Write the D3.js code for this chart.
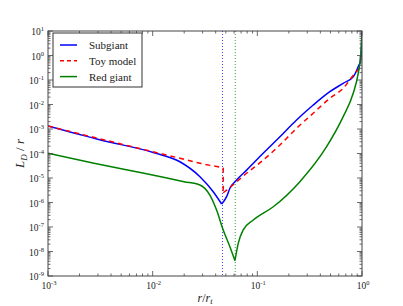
<!DOCTYPE html>
<html>
<head>
<meta charset="utf-8">
<script src="https://cdn.jsdelivr.net/npm/d3@7"></script>
<style>
  body { margin: 0; background: #fff; }
  svg text { font-family: "Liberation Serif", "DejaVu Serif", serif; fill: #222; }
</style>
</head>
<body>
<div id="chart"></div>
<script>
// Subgiant (blue solid)
const subX = [0.001, 0.00318, 0.0103, 0.0182, 0.0283, 0.0379, 0.0456, 0.0509, 0.0547, 0.0634, 0.079, 0.1137, 0.1644, 0.237, 0.342, 0.493, 0.661, 0.824, 0.92, 0.97, 0.993, 1.0];
const subY = [1.32e-3, 3.56e-4, 1.08e-4, 4.6e-5, 1.13e-5, 2.76e-6, 8.7e-7, 1.73e-6, 3.8e-6, 8.3e-6, 2.1e-5, 1.02e-4, 4.85e-4, 2.33e-3, 9.5e-3, 0.0333, 0.0733, 0.136, 0.35, 0.65, 4.3, 12];

// Toy model (red dashed)
const toyX = [0.001, 0.0103, 0.0182, 0.0283, 0.0472, 0.0472, 0.0509, 0.079, 0.1137, 0.1644, 0.237, 0.342, 0.493, 0.661, 0.855, 0.977, 1.0];
const toyY = [1.32e-3, 1.15e-4, 6.4e-5, 4.0e-5, 2.63e-5, 2.5e-6, 3.2e-6, 1.56e-5, 5.4e-5, 2.22e-4, 1.07e-3, 4.4e-3, 0.0179, 0.0458, 0.1875, 0.35, 0.4];

// Red giant (green solid)
const redX = [0.001, 0.00275, 0.00826, 0.0199, 0.0283, 0.0352, 0.0408, 0.0472, 0.0547, 0.0611, 0.0657, 0.0733, 0.0914, 0.142, 0.255, 0.459, 0.661, 0.824, 0.92, 0.977, 1.0];
const redY = [1.02e-4, 4.0e-5, 1.56e-5, 7.1e-6, 5.2e-6, 2.0e-6, 4.9e-7, 7.6e-8, 1.57e-8, 4.2e-9, 2.16e-8, 7.6e-8, 1.93e-7, 6.7e-7, 7.1e-6, 1.9e-4, 3.2e-3, 0.0286, 0.187, 1.23, 8];

// vertical markers
const vlineX = [0.0465, 0.0615];
const vlineColor = ['#4444ff', '#33a033'];

const xTickExp = [-3, -2, -1, 0];
const yTickExp = [1, 0, -1, -2, -3, -4, -5, -6, -7, -8, -9];

const series = [
  {name: 'Subgiant', xs: subX, ys: subY, color: '#0000ff', dash: null},
  {name: 'Toy model', xs: toyX, ys: toyY, color: '#ff0000', dash: '5,4'},
  {name: 'Red giant', xs: redX, ys: redY, color: '#008000', dash: null}
];

const W = 403, H = 306;
const margin = {top: 31, right: 41, bottom: 30, left: 48};
const width = W - margin.left - margin.right;
const height = H - margin.top - margin.bottom;

const svg = d3.select('#chart').append('svg')
  .attr('width', W).attr('height', H);

const g = svg.append('g')
  .attr('transform', `translate(${margin.left},${margin.top})`);

const x = d3.scaleLog().domain([1e-3, 1]).range([0, width]);
const y = d3.scaleLog().domain([1e-9, 10]).range([height, 0]);

g.append('clipPath').attr('id', 'clip')
  .append('rect').attr('width', width).attr('height', height);

const plot = g.append('g').attr('clip-path', 'url(#clip)');

// dotted verticals
plot.selectAll('.vline').data(vlineX).join('line')
  .attr('x1', d => x(d)).attr('x2', d => x(d))
  .attr('y1', 0).attr('y2', height)
  .attr('stroke', (d, i) => vlineColor[i])
  .attr('stroke-width', 1)
  .attr('stroke-dasharray', '1,2');

// split a series into smooth pieces: at repeated x (vertical jump) and at sharp minima
function pieces(xs, ys) {
  const pts = xs.map((v, i) => [v, ys[i]]);
  const out = [];
  let cur = [pts[0]];
  for (let i = 1; i < pts.length; i++) {
    if (pts[i][0] === pts[i - 1][0]) {
      out.push(cur);
      out.push([pts[i - 1], pts[i]]);
      cur = [pts[i]];
      continue;
    }
    cur.push(pts[i]);
    if (i < pts.length - 1 && ys[i] < ys[i - 1] && ys[i] < ys[i + 1]) {
      out.push(cur);
      cur = [pts[i]];
    }
  }
  out.push(cur);
  return out;
}

const smooth = d3.line().x(d => x(d[0])).y(d => y(d[1])).curve(d3.curveMonotoneX);
const straight = d3.line().x(d => x(d[0])).y(d => y(d[1]));

series.forEach(s => {
  const d = pieces(s.xs, s.ys)
    .map(p => (p.length > 2 && p[0][0] !== p[1][0]) ? smooth(p) : straight(p))
    .join('');
  plot.append('path')
    .attr('fill', 'none')
    .attr('stroke', s.color)
    .attr('stroke-width', 1.5)
    .attr('stroke-linejoin', 'round')
    .attr('stroke-dasharray', s.dash)
    .attr('d', d);
});

// ticks (inside, all four sides)
const minors = (lo, hi) => {
  const out = [];
  for (let e = lo; e < hi; e++) for (let m = 2; m <= 9; m++) out.push(m * Math.pow(10, e));
  return out;
};
const xMaj = xTickExp.map(e => Math.pow(10, e));
const yMaj = yTickExp.map(e => Math.pow(10, e));
const xMin = minors(-3, 0);
const yMin = minors(-9, 1);

const ticks = g.append('g').attr('stroke', '#444').attr('stroke-width', 0.8);
[[xMaj, 5], [xMin, 2.5]].forEach(([vals, len]) => {
  vals.forEach(v => {
    ticks.append('line').attr('x1', x(v)).attr('x2', x(v)).attr('y1', height).attr('y2', height - len);
    ticks.append('line').attr('x1', x(v)).attr('x2', x(v)).attr('y1', 0).attr('y2', len);
  });
});
[[yMaj, 5], [yMin, 2.5]].forEach(([vals, len]) => {
  vals.forEach(v => {
    ticks.append('line').attr('y1', y(v)).attr('y2', y(v)).attr('x1', 0).attr('x2', len);
    ticks.append('line').attr('y1', y(v)).attr('y2', y(v)).attr('x1', width).attr('x2', width - len);
  });
});

g.append('rect').attr('width', width).attr('height', height)
  .attr('fill', 'none').attr('stroke', '#444').attr('stroke-width', 1);

// tick labels
const powLabel = (sel, e) => {
  sel.append('tspan').text('10');
  sel.append('tspan').attr('dy', -4).attr('font-size', 6.5).text(e < 0 ? '-' + (-e) : e);
};
xTickExp.forEach(e => {
  const t = g.append('text').attr('x', x(Math.pow(10, e)) + 1).attr('y', height + 13)
    .attr('text-anchor', 'middle').attr('font-size', 9.5);
  powLabel(t, e);
});
yTickExp.forEach(e => {
  const t = g.append('text').attr('x', -4).attr('y', y(Math.pow(10, e)) + 4)
    .attr('text-anchor', 'end').attr('font-size', 9.5);
  powLabel(t, e);
});

// axis titles
const xt = g.append('text').attr('x', width / 2).attr('y', height + 26)
  .attr('text-anchor', 'middle').attr('font-size', 12).attr('font-style', 'italic');
xt.append('tspan').text('r');
xt.append('tspan').attr('font-style', 'normal').text('/');
xt.append('tspan').text('r');
xt.append('tspan').attr('dy', 2).attr('font-size', 8.5).text('t');

const yt = g.append('text')
  .attr('transform', `translate(${-24},${height / 2}) rotate(-90)`)
  .attr('text-anchor', 'middle').attr('font-size', 13).attr('font-style', 'italic');
yt.append('tspan').text('L');
yt.append('tspan').attr('dy', 3).attr('font-size', 9).text('D');
yt.append('tspan').attr('dy', -3).attr('font-style', 'normal').text(' / ');
yt.append('tspan').text('r');

// legend
const lg = g.append('g').attr('transform', 'translate(5,2)');
lg.append('rect').attr('width', 89).attr('height', 54)
  .attr('fill', '#fff').attr('stroke', '#333').attr('stroke-width', 1);
series.forEach((s, i) => {
  const yy = 12 + i * 15.8;
  lg.append('line').attr('x1', 7).attr('x2', 24).attr('y1', yy).attr('y2', yy)
    .attr('stroke', s.color).attr('stroke-width', 1.5)
    .attr('stroke-dasharray', s.dash ? '4,3' : null);
  lg.append('text').attr('x', 36).attr('y', yy + 4).attr('font-size', 11).text(s.name);
});
</script>
</body>
</html>
